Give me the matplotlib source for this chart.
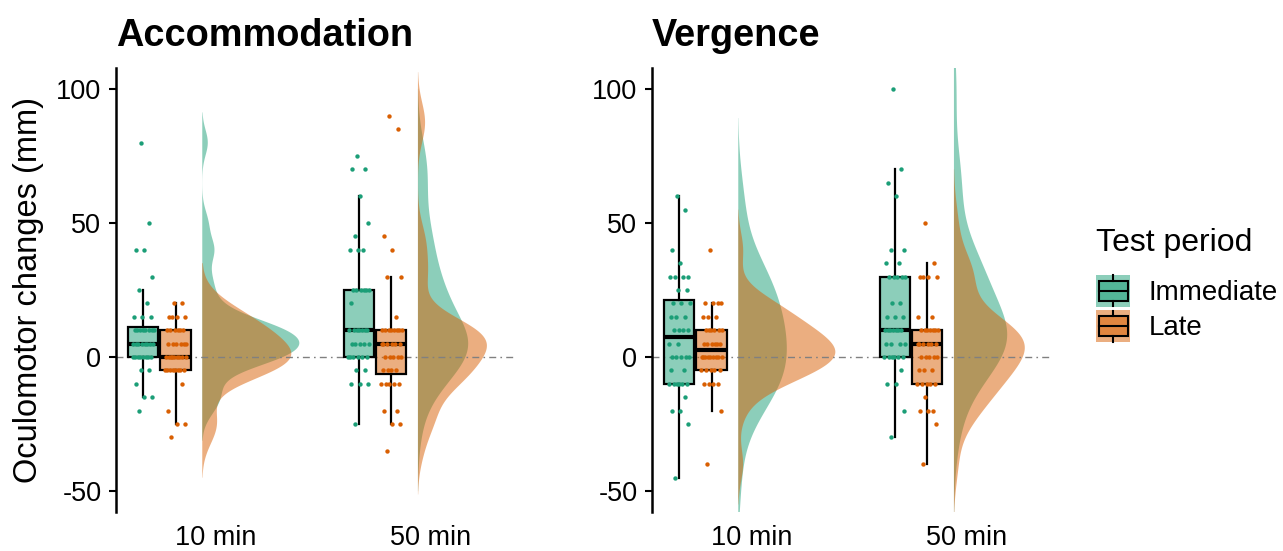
import numpy as np
import matplotlib
matplotlib.use("Agg")
import matplotlib.pyplot as plt
from matplotlib.patches import Rectangle, Patch
from matplotlib.legend_handler import HandlerBase
from matplotlib.lines import Line2D
from matplotlib.colors import to_rgba

plt.rcParams['font.family'] = ['Liberation Sans', 'DejaVu Sans']

# ---------------- data ----------------
categories = ['10 min', '50 min']
periods = ['Immediate', 'Late']
period_colors = ['#1B9E77', '#D95F02']
panel_titles = ['Accommodation', 'Vergence']
y_label = 'Oculomotor changes (mm)'
y_ticks = [-50, 0, 50, 100]

# Accommodation (mm), one value per participant
acc_imm_10 = [-20, -15, -15, -10, -5, -5,
              0, 0, 0, 0, 0, 0, 0, 0,
              5, 5, 5, 5, 5, 5, 5, 5,
              10, 10, 10, 10, 10, 10, 10, 10,
              15, 15, 15, 20, 25, 30, 40, 40, 50, 80]
acc_late_10 = [-30, -25, -25, -20, -10,
               -5, -5, -5, -5, -5, -5, -5, -5,
               0, 0, 0, 0, 0, 0, 0, 0, 0,
               5, 5, 5, 5, 5, 5,
               10, 10, 10, 10, 10, 10,
               15, 15, 15, 15, 20, 20]
acc_imm_50 = [-25, -10, -10, -10, -5, -5,
              0, 0, 0, 0, 0, 0,
              5, 5, 5, 5, 5,
              10, 10, 10, 10, 10, 10, 10,
              20, 25, 25, 25, 25, 25, 25,
              40, 40, 40, 45, 50, 60, 70, 70, 75]
acc_late_50 = [-35, -25, -25, -20, -20,
               -10, -10, -10, -10, -10,
               -5, -5, -5, -5,
               0, 0, 0, 0, 0,
               5, 5, 5, 5, 5, 5,
               10, 10, 10, 10, 10, 10, 10, 10,
               15, 30, 30, 40, 45, 85, 90]

# Vergence (mm), one value per participant
ver_imm_10 = [-45, -25, -20, -20, -15,
              -10, -10, -10, -10, -10, -10,
              -5, -5,
              0, 0, 0, 0, 0,
              5, 5,
              10, 10, 10, 10,
              15, 15, 15,
              20, 20, 20,
              25, 25,
              30, 30, 30, 30, 35, 40, 55, 60]
ver_late_10 = [-40, -20,
               -10, -10, -10, -10,
               -5, -5, -5, -5, -5,
               0, 0, 0, 0, 0, 0, 0, 0, 0,
               5, 5, 5, 5, 5, 5,
               10, 10, 10, 10, 10, 10,
               15, 15, 15,
               20, 20, 20, 20, 40]
ver_imm_50 = [-30, -20, -10, -10, -5,
              0, 0, 0, 0, 0, 0,
              5, 5, 5, 5,
              10, 10, 10, 10, 10, 10, 10,
              15, 15, 15, 20, 20,
              30, 30, 30, 30, 30,
              35, 35, 40, 40, 60, 65, 70, 100]
ver_late_50 = [-40, -25, -20, -20, -20, -15,
               -10, -10, -10, -10, -10,
               -5, -5, -5,
               0, 0, 0, 0, 0,
               5, 5, 5, 5, 5, 5,
               10, 10, 10, 10, 10, 10, 10,
               15, 15, 30, 30, 30, 30, 35, 50]

panels = [
    {'Immediate': [acc_imm_10, acc_imm_50], 'Late': [acc_late_10, acc_late_50]},
    {'Immediate': [ver_imm_10, ver_imm_50], 'Late': [ver_late_10, ver_late_50]},
]

# ---------------- helpers ----------------
def bw_nrd0(x):
    x = np.asarray(x, float)
    sd = x.std(ddof=1)
    q75, q25 = np.percentile(x, [75, 25])
    lo = min(sd, (q75 - q25) / 1.34)
    if lo <= 0:
        lo = sd
    return 0.9 * lo * len(x) ** -0.2


def kde(x, adjust=1.3, cut=2.4, n=512):
    x = np.asarray(x, float)
    bw = bw_nrd0(x) * adjust
    grid = np.linspace(x.min() - cut * bw, x.max() + cut * bw, n)
    d = np.exp(-0.5 * ((grid[:, None] - x[None, :]) / bw) ** 2).sum(axis=1)
    d /= (len(x) * bw * np.sqrt(2 * np.pi))
    return grid, d


def jitter(n, width=0.05):
    k = np.arange(n)
    return (((k * 0.618034 + 0.31) % 1.0) - 0.5) * 2 * width


box_offset = {'Immediate': -0.335, 'Late': -0.184}
box_width = 0.14
violin_offset = -0.06
violin_width = 0.45


class BoxKeyHandler(HandlerBase):
    def create_artists(self, legend, orig_handle, xdescent, ydescent, width, height, fontsize, trans):
        c = orig_handle.get_facecolor()[:3]
        x0, y0 = -xdescent, -ydescent
        bg = Rectangle((x0, y0), width, height, facecolor=to_rgba(c, 0.5), edgecolor='none', transform=trans)
        bx = Rectangle((x0 + 0.08 * width, y0 + 0.18 * height), 0.85 * width, 0.64 * height,
                       facecolor=to_rgba(c, 0.5), edgecolor='black', lw=1.5, transform=trans)
        med = Line2D([x0 + 0.08 * width, x0 + 0.93 * width], [y0 + 0.5 * height] * 2, color='black', lw=1.5,
                     transform=trans)
        w1 = Line2D([x0 + 0.5 * width] * 2, [y0 + 0.02 * height, y0 + 0.18 * height], color='black', lw=1.5,
                    transform=trans)
        w2 = Line2D([x0 + 0.5 * width] * 2, [y0 + 0.82 * height, y0 + 0.98 * height], color='black', lw=1.5,
                    transform=trans)
        return [bg, bx, med, w1, w2]


# ---------------- figure ----------------
W, H = 1283, 551
fig = plt.figure(figsize=(W / 100, H / 100), dpi=100)
ax_left_px = [116, 652]
ax_w_px = 399
ax_top_px, ax_bot_px = 68, 512

for pi, panel in enumerate(panels):
    ax = fig.add_axes([ax_left_px[pi] / W, (H - ax_bot_px) / H, ax_w_px / W, (ax_bot_px - ax_top_px) / H])
    dens = {}
    dmax = 0
    for p in periods:
        for ci in range(len(categories)):
            g, d = kde(panel[p][ci])
            dens[(p, ci)] = (g, d)
            dmax = max(dmax, d.max())
    scale = violin_width / dmax
    for ci in range(len(categories)):
        pos = ci + 1
        for p, col in zip(periods, period_colors):
            g, d = dens[(p, ci)]
            ax.fill_betweenx(g, pos + violin_offset, pos + violin_offset + d * scale,
                             facecolor=to_rgba(col, 0.5), edgecolor='none', zorder=1)
    ax.axhline(0, color='#808080', lw=1.0, linestyle=(0, (5, 3, 1.2, 3)), zorder=2)
    for ci in range(len(categories)):
        pos = ci + 1
        for p, col in zip(periods, period_colors):
            vals = np.asarray(panel[p][ci], float)
            ax.boxplot([vals], positions=[pos + box_offset[p]], widths=box_width, whis=1.5,
                       patch_artist=True, showfliers=False, showcaps=False, manage_ticks=False,
                       boxprops=dict(facecolor=to_rgba(col, 0.5), edgecolor='black', lw=1.6),
                       medianprops=dict(color='black', lw=3.0),
                       whiskerprops=dict(color='black', lw=1.6), zorder=3)
            ax.scatter(pos + box_offset[p] + jitter(len(vals)), vals, s=10, color=col, lw=0, zorder=4)

    ax.set_xlim(0.54, 2.39)
    ax.set_ylim(-57.84, 107.84)
    ax.set_yticks(y_ticks)
    ax.set_yticklabels([str(t) for t in y_ticks])
    ax.set_xticks([1, 2])
    ax.set_xticklabels(categories)
    for s in ['top', 'right', 'bottom']:
        ax.spines[s].set_visible(False)
    ax.spines['left'].set_linewidth(1.8)
    ax.tick_params(axis='y', length=5, width=1.5, pad=5.5, labelsize=19.5, colors='black')
    ax.tick_params(axis='x', length=0, pad=9.5, labelsize=19.5)
    if pi == 0:
        ax.set_ylabel(y_label, fontsize=23.5)
        ax.yaxis.set_label_coords(-0.18, 0.5)
    fig.text((ax_left_px[pi] + 0) / W, 1 - 46 / H, panel_titles[pi], fontsize=27.3, fontweight='bold',
             ha='left', va='baseline')

handles = [Patch(facecolor=c) for c in period_colors]
leg = fig.legend(handles=handles, labels=periods, title='Test period', handler_map={Patch: BoxKeyHandler()},
                 loc='upper left', bbox_to_anchor=(1096 / W, 1 - 228 / H), frameon=False,
                 fontsize=20, title_fontsize=23, handlelength=1.22, handleheight=1.42,
                 handletextpad=0.68, labelspacing=0.1, borderaxespad=0, borderpad=0,
                 alignment='left')
leg._legend_box.sep = 12

fig.savefig('out.png', dpi=100)
